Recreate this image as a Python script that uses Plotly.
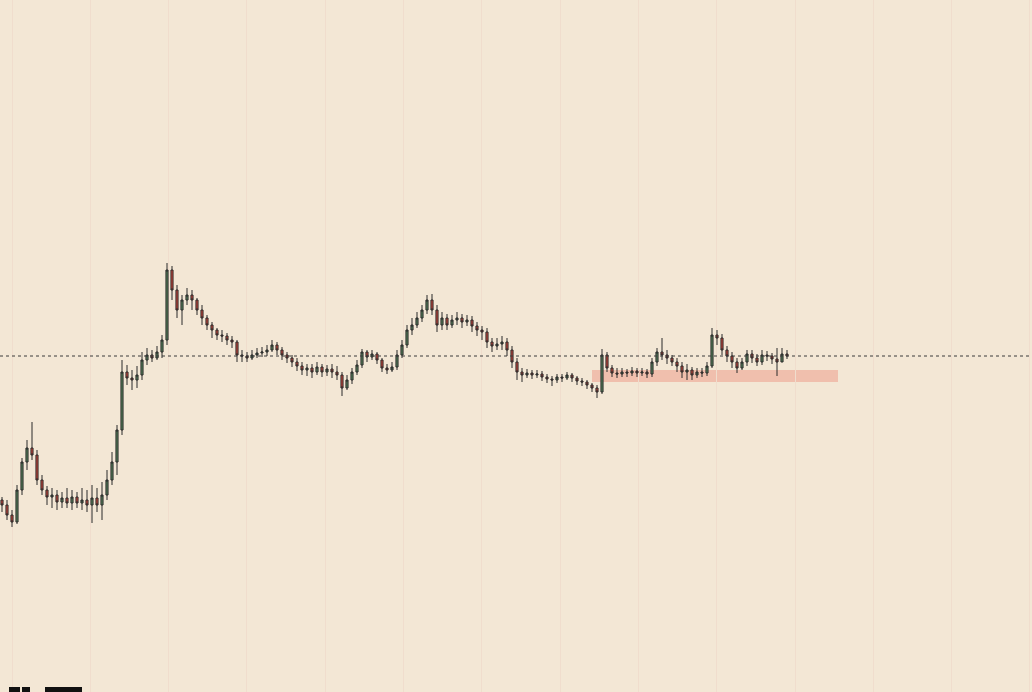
import plotly.graph_objects as go

# Candle index (time step)
idx = list(range(158))

open_ = [192,187,177,170,202,230,244,237,212,202,195,197,190,194,189,195,189,192,187,194,
         187,197,212,230,262,320,314,312,317,332,337,334,340,352,422,402,382,392,397,392,
         382,374,367,362,357,356,352,350,337,336,334,337,339,340,342,347,342,337,334,330,
         326,322,324,320,325,320,323,320,317,304,312,320,327,340,335,338,332,324,322,325,
         337,347,362,367,374,382,392,382,367,374,367,372,374,370,372,366,362,360,350,346,
         348,350,342,330,320,317,319,317,318,315,313,312,315,314,317,314,311,310,307,304,
         300,337,324,319,318,320,319,321,319,320,318,330,340,337,334,330,326,320,322,317,
         320,319,326,357,354,342,336,330,324,330,338,334,330,337,336,333,330,338]
high = [195,192,182,207,234,252,270,242,217,206,204,202,200,204,202,200,204,202,207,204,
        210,222,240,267,332,327,322,326,340,344,342,346,357,429,426,407,397,404,402,394,
        387,377,370,364,362,359,356,352,342,340,342,344,345,347,352,350,345,340,337,334,
        330,328,328,330,328,327,328,326,320,317,324,332,343,342,342,340,334,328,330,342,
        352,367,374,380,387,397,398,387,380,378,377,380,378,377,376,370,366,364,354,354,
        356,354,346,334,324,323,322,322,321,318,316,318,318,320,319,316,314,312,309,307,
        343,340,327,324,324,323,325,324,324,323,334,344,354,342,337,334,330,328,325,324,
        324,330,364,362,358,346,340,334,334,342,342,338,342,341,339,344,344,342]
low = [180,172,165,168,197,222,232,207,197,187,184,182,184,184,182,184,182,180,169,180,
       172,192,207,217,257,307,302,304,312,327,330,332,334,347,392,374,367,387,382,377,
       367,362,354,352,350,347,344,330,330,330,332,334,335,336,340,337,332,329,325,321,
       317,316,314,317,315,316,314,312,296,302,308,317,324,330,332,328,320,318,320,322,
       334,344,357,364,370,378,377,360,362,362,364,367,364,366,360,356,352,344,340,342,
       342,336,324,312,310,314,313,314,311,309,306,309,310,312,310,307,306,303,300,294,
       298,320,315,314,315,315,316,315,316,314,315,326,332,328,326,320,314,312,312,314,
       315,316,324,347,337,330,324,319,322,326,329,326,327,331,328,316,330,333]
close = [187,177,170,202,230,244,237,212,202,195,197,190,194,189,195,189,192,187,194,187,
         197,212,230,262,320,314,312,317,332,337,334,340,352,422,402,382,392,397,392,382,
         374,367,362,357,356,352,350,337,336,334,337,339,340,342,347,342,337,334,330,326,
         322,324,320,325,320,323,320,317,304,312,320,327,340,335,338,332,324,322,325,337,
         347,362,367,374,382,392,382,367,374,367,372,374,370,372,366,362,360,350,346,348,
         350,342,330,320,317,319,317,318,315,313,312,315,314,317,314,311,310,307,304,300,
         337,324,319,318,320,319,321,319,320,318,330,340,337,334,330,326,320,322,317,320,
         319,326,357,354,342,336,330,324,330,338,334,330,337,336,333,330,338,336]

ref_level = 336                 # dotted horizontal level
zone_x = [118, 167.2]           # zone span (candle index)
zone_y = [310, 322]             # zone price band

BG = "#F3E7D5"
GRID = "#F0DDCD"

fig = go.Figure()
fig.add_trace(go.Candlestick(
    x=idx, open=open_, high=high, low=low, close=close,
    increasing=dict(line=dict(color="#2a2a2a", width=1), fillcolor="#55805a"),
    decreasing=dict(line=dict(color="#2a2a2a", width=1), fillcolor="#c8443a"),
    whiskerwidth=0, showlegend=False, hoverinfo="skip",
))

fig.add_shape(type="rect", xref="x", yref="y", x0=zone_x[0], x1=zone_x[1],
              y0=zone_y[0], y1=zone_y[1], fillcolor="#F0BFAD", line=dict(width=0),
              layer="below")
fig.add_shape(type="line", xref="paper", yref="y", x0=0, x1=1, y0=ref_level, y1=ref_level,
              line=dict(color="#3a3a3a", width=1, dash="dot"))

# partial TradingView logo at bottom-left
W, H = 1032, 692
for (a, b) in [(9, 20), (22, 30), (45, 82)]:
    fig.add_shape(type="rect", xref="paper", yref="paper", x0=a / W, x1=b / W,
                  y0=0, y1=5 / H, fillcolor="#111111", line=dict(width=0))

fig.update_layout(
    width=W, height=H, margin=dict(l=0, r=0, t=0, b=0),
    paper_bgcolor=BG, plot_bgcolor=BG, boxgap=0.4, hovermode=False,
    xaxis=dict(range=[-0.4, 206], showticklabels=False, showgrid=True, gridcolor=GRID,
               gridwidth=1, tick0=2, dtick=15.66, zeroline=False, rangeslider=dict(visible=False),
               showline=False, ticks=""),
    yaxis=dict(range=[0, 692], showticklabels=False, showgrid=False, zeroline=False,
               showline=False, ticks=""),
)

fig.write_html("out.html", config={"displayModeBar": False},
               post_script="document.body.style.margin='0';document.body.style.background='%s';" % BG)
